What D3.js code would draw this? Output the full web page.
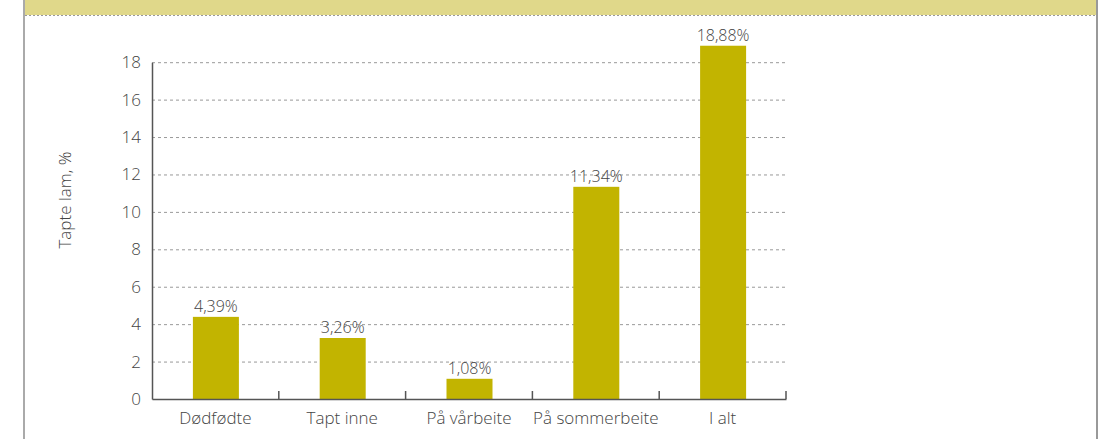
<!DOCTYPE html>
<html>
<head>
<meta charset="utf-8">
<script src="https://cdn.jsdelivr.net/npm/d3@7"></script>
<style>
  body { margin: 0; background: #fff; }
  svg { display: block; font-family: "Open Sans", "Lato", sans-serif; font-weight: 300; }
</style>
</head>
<body>
<svg id="chart" width="1109" height="439"></svg>
<script>
var categories = ["Dødfødte", "Tapt inne", "På vårbeite", "På sommerbeite", "I alt"];
var values = [4.39, 3.26, 1.08, 11.34, 18.88];
var yTicks = [0, 2, 4, 6, 8, 10, 12, 14, 16, 18];

var svg = d3.select("#chart");

// frame + banner
svg.append("rect").attr("x", 25).attr("y", 0).attr("width", 1071).attr("height", 15)
    .attr("fill", "#e0d88a");
svg.append("line").attr("x1", 25).attr("x2", 1096).attr("y1", 15.5).attr("y2", 15.5)
    .attr("stroke", "#999").attr("stroke-width", 1.2).attr("stroke-dasharray", "2,2");
svg.append("line").attr("x1", 24).attr("x2", 24).attr("y1", 0).attr("y2", 439)
    .attr("stroke", "#aaa").attr("stroke-width", 2);
svg.append("line").attr("x1", 1097).attr("x2", 1097).attr("y1", 0).attr("y2", 439)
    .attr("stroke", "#999").attr("stroke-width", 2);

var margin = {left: 152, right: 786, top: 62.2, bottom: 399};

var x = d3.scaleBand().domain(categories).range([margin.left, margin.right]).padding(0);
var y = d3.scaleLinear().domain([0, 18]).range([margin.bottom, margin.top]);

// gridlines
svg.append("g").selectAll("line").data(yTicks.filter(function(d){ return d > 0; }))
    .enter().append("line")
    .attr("x1", margin.left).attr("x2", margin.right)
    .attr("y1", function(d){ return y(d) + 0.5; }).attr("y2", function(d){ return y(d) + 0.5; })
    .attr("stroke", "#999").attr("stroke-width", 1).attr("stroke-dasharray", "3,3");

// bars
var barW = 46;
svg.append("g").selectAll("rect").data(values).enter().append("rect")
    .attr("x", function(d, i){ return x(categories[i]) + x.bandwidth() / 2 - barW / 2 + 0.5; })
    .attr("y", function(d){ return y(d); })
    .attr("width", barW)
    .attr("height", function(d){ return y(0) - y(d); })
    .attr("fill", "#c2b400");

// value labels
svg.append("g").selectAll("text").data(values).enter().append("text")
    .attr("x", function(d, i){ return x(categories[i]) + x.bandwidth() / 2 + 0.5; })
    .attr("y", function(d){ return y(d) - 5; })
    .attr("text-anchor", "middle")
    .attr("font-size", "16px")
    .attr("fill", "#444")
    .text(function(d){ return d.toFixed(2).replace(".", ",") + "%"; });

// y axis
var yAxis = svg.append("g").attr("transform", "translate(" + margin.left + ",0)")
    .call(d3.axisLeft(y).tickValues(yTicks).tickSize(0).tickPadding(11));
yAxis.select(".domain").attr("stroke", "#555").attr("stroke-width", 1.5);
yAxis.selectAll(".tick text").attr("font-size", "17px").attr("fill", "#444")
    .attr("font-family", "\"Open Sans\", sans-serif").attr("font-weight", 300);

// x axis with upward ticks at band boundaries
var xAxis = svg.append("g").attr("transform", "translate(0," + margin.bottom + ")")
    .call(d3.axisBottom(x).tickSize(0).tickPadding(13));
xAxis.select(".domain").attr("stroke", "#555").attr("stroke-width", 1.5);
xAxis.selectAll(".tick text").attr("font-size", "17px").attr("fill", "#444")
    .attr("font-family", "\"Open Sans\", sans-serif").attr("font-weight", 300);
xAxis.selectAll(".sep").data(categories.slice(1).concat([null])).enter().append("line")
    .attr("class", "sep")
    .attr("x1", function(d){ return d ? x(d) : margin.right; })
    .attr("x2", function(d){ return d ? x(d) : margin.right; })
    .attr("y1", 0).attr("y2", -8)
    .attr("stroke", "#555").attr("stroke-width", 1.5);

// y axis title
svg.append("text")
    .attr("transform", "translate(71,200) rotate(-90)")
    .attr("text-anchor", "middle")
    .attr("font-size", "17px")
    .attr("fill", "#444")
    .text("Tapte lam, %");
</script>
</body>
</html>
